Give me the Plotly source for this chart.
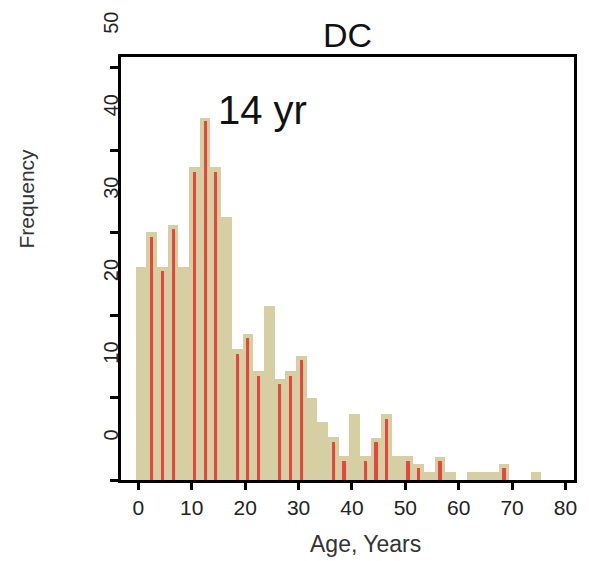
import plotly.graph_objects as go

# Age bins (2-year bins, bin centres in years)
ages = [0.5, 2.5, 4.5, 6.5, 8.5, 10.5, 12.5, 14.5, 16.5, 18.5,
        20.5, 22.5, 24.5, 26.5, 28.5, 30.5, 32.5, 34.5, 36.5, 38.5,
        40.5, 42.5, 44.5, 46.5, 48.5, 50.5, 52.5, 54.5, 56.5, 58.5,
        60.5, 62.5, 64.5, 66.5, 68.5, 70.5, 72.5, 74.5]

# Frequency of the wide (tan) histogram
freq_all = [25.8, 30.1, 25.8, 30.9, 25.8, 37.9, 43.9, 37.9, 31.9, 15.9,
            17.7, 13.2, 21.1, 12.2, 13.2, 15.0, 9.9, 7.0, 5.2, 2.9,
            8.0, 2.9, 5.1, 8.0, 2.9, 2.9, 1.9, 1.0, 2.8, 1.0,
            0.0, 1.0, 1.0, 1.0, 1.9, 0.0, 0.0, 1.0]

# Frequency of the narrow (red) histogram
freq_sub = [0.0, 29.5, 25.3, 30.4, 0.0, 37.3, 43.5, 37.3, 0.0, 15.3,
            17.2, 12.6, 0.0, 11.6, 12.6, 14.5, 0.0, 0.0, 4.6, 2.3,
            0.0, 2.3, 4.6, 7.4, 0.0, 2.3, 1.4, 0.0, 2.3, 0.0,
            0.0, 0.0, 0.0, 0.0, 1.4, 0.0, 0.0, 0.0]

x_ticks = [0, 10, 20, 30, 40, 50, 60, 70, 80]
y_ticks = [0, 10, 20, 30, 40, 50]

TAN = "#d5cfa3"
RED = "#e8463a"
FONT = "Liberation Sans, Arial, sans-serif"

fig = go.Figure()
fig.add_bar(x=ages, y=freq_all, width=2,
            marker=dict(color=TAN, line=dict(width=0)), hoverinfo="x+y")
fig.add_bar(x=ages, y=freq_sub, width=0.6,
            marker=dict(color=RED, line=dict(width=0)), hoverinfo="x+y")

fig.update_layout(
    width=589, height=561, autosize=False,
    margin=dict(l=121, r=12, t=51, b=81),
    paper_bgcolor="white", plot_bgcolor="white",
    barmode="overlay", bargap=0, showlegend=False,
    font=dict(family=FONT, color="#222"),
    title=dict(text="DC", x=0.5, xref="paper", xanchor="center",
               y=1 - 35 / 561, yref="container", yanchor="middle",
               font=dict(size=34, color="#111", family=FONT)),
    xaxis=dict(range=[-3.26, 81.6], tickvals=x_ticks,
               ticktext=[str(v) for v in x_ticks],
               showline=True, linewidth=3, linecolor="black", mirror=True,
               ticks="outside", ticklen=7, tickwidth=3, tickcolor="black",
               tickfont=dict(size=21, color="#222", family=FONT),
               showgrid=False, zeroline=False),
    yaxis=dict(range=[0, 51.3], tickvals=y_ticks,
               ticktext=[str(v) for v in y_ticks],
               tickangle=-90, ticklabelshift=-42, ticklabelstandoff=-16,
               showline=True, linewidth=3, linecolor="black", mirror=True,
               ticks="outside", ticklen=8, tickwidth=3, tickcolor="black",
               tickfont=dict(size=20, color="#222", family=FONT),
               showgrid=False, zeroline=False),
    annotations=[
        dict(text="14 yr", x=23.2, y=44.9, xref="x", yref="y",
             xanchor="center", yanchor="middle",
             showarrow=False, font=dict(size=40, color="#111", family=FONT)),
        dict(text="Frequency", x=(26 - 121) / 456, y=(480 - 195) / 429,
             xref="paper", yref="paper", textangle=-90, showarrow=False,
             xanchor="center", yanchor="middle",
             font=dict(size=21, color="#333", family=FONT)),
        dict(text="Age, Years", x=(367 - 121) / 456, y=(480 - 545) / 429,
             xref="paper", yref="paper", showarrow=False,
             xanchor="center", yanchor="middle",
             font=dict(size=23, color="#333", family=FONT)),
    ],
)

fig.write_html("out.html")
